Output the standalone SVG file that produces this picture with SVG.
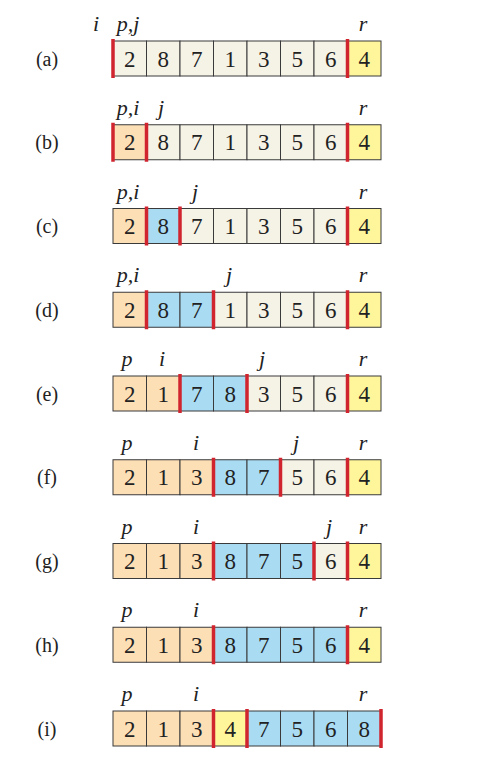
<svg xmlns="http://www.w3.org/2000/svg" width="477" height="771" viewBox="0 0 477 771">
<style>
.c{stroke:#3a3a3a;stroke-width:1}
.w{fill:#F5F2E6}
.o{fill:#FDDFB6}
.b{fill:#A9DCF3}
.y{fill:#FFF69C}
text{font-family:'Liberation Serif','Times New Roman',Times,serif;fill:#222;text-anchor:middle}
.d{font-size:23px}
.l{font-size:20px}
.v{font-style:italic;font-size:22px}
.red{stroke:#D0242F;stroke-width:3.5}
</style>
<rect width="477" height="771" fill="#fff"/>

<g id="row-a" transform="translate(0,41)">
<text class="l" x="47" y="24.5">(a)</text>
<text class="v" x="96" y="-10">i</text>
<text class="v" x="128" y="-10">p,j</text>
<text class="v" x="363" y="-10">r</text>
<g id="a0"><rect class="c w" x="113" y="0" width="33.5" height="35"/><text class="d" x="129.75" y="25.5">2</text></g>
<g id="a1"><rect class="c w" x="146.5" y="0" width="33.5" height="35"/><text class="d" x="163.25" y="25.5">8</text></g>
<g id="a2"><rect class="c w" x="180" y="0" width="33.5" height="35"/><text class="d" x="196.75" y="25.5">7</text></g>
<g id="a3"><rect class="c w" x="213.5" y="0" width="33.5" height="35"/><text class="d" x="230.25" y="25.5">1</text></g>
<g id="a4"><rect class="c w" x="247" y="0" width="33.5" height="35"/><text class="d" x="263.75" y="25.5">3</text></g>
<g id="a5"><rect class="c w" x="280.5" y="0" width="33.5" height="35"/><text class="d" x="297.25" y="25.5">5</text></g>
<g id="a6"><rect class="c w" x="314" y="0" width="33.5" height="35"/><text class="d" x="330.75" y="25.5">6</text></g>
<g id="a7"><rect class="c y" x="347.5" y="0" width="33.5" height="35"/><text class="d" x="364.25" y="25.5">4</text></g>
<line class="red" x1="113" y1="-2" x2="113" y2="37"/>
<line class="red" x1="347.5" y1="-2" x2="347.5" y2="37"/>
</g>

<g id="row-b" transform="translate(0,124.75)">
<text class="l" x="47" y="24.5">(b)</text>
<text class="v" x="128" y="-10">p,i</text>
<text class="v" x="161" y="-10">j</text>
<text class="v" x="363" y="-10">r</text>
<g id="b0"><rect class="c o" x="113" y="0" width="33.5" height="35"/><text class="d" x="129.75" y="25.5">2</text></g>
<g id="b1"><rect class="c w" x="146.5" y="0" width="33.5" height="35"/><text class="d" x="163.25" y="25.5">8</text></g>
<g id="b2"><rect class="c w" x="180" y="0" width="33.5" height="35"/><text class="d" x="196.75" y="25.5">7</text></g>
<g id="b3"><rect class="c w" x="213.5" y="0" width="33.5" height="35"/><text class="d" x="230.25" y="25.5">1</text></g>
<g id="b4"><rect class="c w" x="247" y="0" width="33.5" height="35"/><text class="d" x="263.75" y="25.5">3</text></g>
<g id="b5"><rect class="c w" x="280.5" y="0" width="33.5" height="35"/><text class="d" x="297.25" y="25.5">5</text></g>
<g id="b6"><rect class="c w" x="314" y="0" width="33.5" height="35"/><text class="d" x="330.75" y="25.5">6</text></g>
<g id="b7"><rect class="c y" x="347.5" y="0" width="33.5" height="35"/><text class="d" x="364.25" y="25.5">4</text></g>
<line class="red" x1="113" y1="-2" x2="113" y2="37"/>
<line class="red" x1="146.5" y1="-2" x2="146.5" y2="37"/>
<line class="red" x1="347.5" y1="-2" x2="347.5" y2="37"/>
</g>

<g id="row-c" transform="translate(0,208.5)">
<text class="l" x="47" y="24.5">(c)</text>
<text class="v" x="128" y="-10">p,i</text>
<text class="v" x="195" y="-10">j</text>
<text class="v" x="363" y="-10">r</text>
<g id="c0"><rect class="c o" x="113" y="0" width="33.5" height="35"/><text class="d" x="129.75" y="25.5">2</text></g>
<g id="c1"><rect class="c b" x="146.5" y="0" width="33.5" height="35"/><text class="d" x="163.25" y="25.5">8</text></g>
<g id="c2"><rect class="c w" x="180" y="0" width="33.5" height="35"/><text class="d" x="196.75" y="25.5">7</text></g>
<g id="c3"><rect class="c w" x="213.5" y="0" width="33.5" height="35"/><text class="d" x="230.25" y="25.5">1</text></g>
<g id="c4"><rect class="c w" x="247" y="0" width="33.5" height="35"/><text class="d" x="263.75" y="25.5">3</text></g>
<g id="c5"><rect class="c w" x="280.5" y="0" width="33.5" height="35"/><text class="d" x="297.25" y="25.5">5</text></g>
<g id="c6"><rect class="c w" x="314" y="0" width="33.5" height="35"/><text class="d" x="330.75" y="25.5">6</text></g>
<g id="c7"><rect class="c y" x="347.5" y="0" width="33.5" height="35"/><text class="d" x="364.25" y="25.5">4</text></g>
<line class="red" x1="146.5" y1="-2" x2="146.5" y2="37"/>
<line class="red" x1="180" y1="-2" x2="180" y2="37"/>
<line class="red" x1="347.5" y1="-2" x2="347.5" y2="37"/>
</g>

<g id="row-d" transform="translate(0,292.25)">
<text class="l" x="47" y="24.5">(d)</text>
<text class="v" x="128" y="-10">p,i</text>
<text class="v" x="229" y="-10">j</text>
<text class="v" x="363" y="-10">r</text>
<g id="d0"><rect class="c o" x="113" y="0" width="33.5" height="35"/><text class="d" x="129.75" y="25.5">2</text></g>
<g id="d1"><rect class="c b" x="146.5" y="0" width="33.5" height="35"/><text class="d" x="163.25" y="25.5">8</text></g>
<g id="d2"><rect class="c b" x="180" y="0" width="33.5" height="35"/><text class="d" x="196.75" y="25.5">7</text></g>
<g id="d3"><rect class="c w" x="213.5" y="0" width="33.5" height="35"/><text class="d" x="230.25" y="25.5">1</text></g>
<g id="d4"><rect class="c w" x="247" y="0" width="33.5" height="35"/><text class="d" x="263.75" y="25.5">3</text></g>
<g id="d5"><rect class="c w" x="280.5" y="0" width="33.5" height="35"/><text class="d" x="297.25" y="25.5">5</text></g>
<g id="d6"><rect class="c w" x="314" y="0" width="33.5" height="35"/><text class="d" x="330.75" y="25.5">6</text></g>
<g id="d7"><rect class="c y" x="347.5" y="0" width="33.5" height="35"/><text class="d" x="364.25" y="25.5">4</text></g>
<line class="red" x1="146.5" y1="-2" x2="146.5" y2="37"/>
<line class="red" x1="213.5" y1="-2" x2="213.5" y2="37"/>
<line class="red" x1="347.5" y1="-2" x2="347.5" y2="37"/>
</g>

<g id="row-e" transform="translate(0,376)">
<text class="l" x="47" y="24.5">(e)</text>
<text class="v" x="127" y="-10">p</text>
<text class="v" x="162" y="-10">i</text>
<text class="v" x="262" y="-10">j</text>
<text class="v" x="363" y="-10">r</text>
<g id="e0"><rect class="c o" x="113" y="0" width="33.5" height="35"/><text class="d" x="129.75" y="25.5">2</text></g>
<g id="e1"><rect class="c o" x="146.5" y="0" width="33.5" height="35"/><text class="d" x="163.25" y="25.5">1</text></g>
<g id="e2"><rect class="c b" x="180" y="0" width="33.5" height="35"/><text class="d" x="196.75" y="25.5">7</text></g>
<g id="e3"><rect class="c b" x="213.5" y="0" width="33.5" height="35"/><text class="d" x="230.25" y="25.5">8</text></g>
<g id="e4"><rect class="c w" x="247" y="0" width="33.5" height="35"/><text class="d" x="263.75" y="25.5">3</text></g>
<g id="e5"><rect class="c w" x="280.5" y="0" width="33.5" height="35"/><text class="d" x="297.25" y="25.5">5</text></g>
<g id="e6"><rect class="c w" x="314" y="0" width="33.5" height="35"/><text class="d" x="330.75" y="25.5">6</text></g>
<g id="e7"><rect class="c y" x="347.5" y="0" width="33.5" height="35"/><text class="d" x="364.25" y="25.5">4</text></g>
<line class="red" x1="180" y1="-2" x2="180" y2="37"/>
<line class="red" x1="247" y1="-2" x2="247" y2="37"/>
<line class="red" x1="347.5" y1="-2" x2="347.5" y2="37"/>
</g>

<g id="row-f" transform="translate(0,459.75)">
<text class="l" x="47" y="24.5">(f)</text>
<text class="v" x="127" y="-10">p</text>
<text class="v" x="196" y="-10">i</text>
<text class="v" x="296" y="-10">j</text>
<text class="v" x="363" y="-10">r</text>
<g id="f0"><rect class="c o" x="113" y="0" width="33.5" height="35"/><text class="d" x="129.75" y="25.5">2</text></g>
<g id="f1"><rect class="c o" x="146.5" y="0" width="33.5" height="35"/><text class="d" x="163.25" y="25.5">1</text></g>
<g id="f2"><rect class="c o" x="180" y="0" width="33.5" height="35"/><text class="d" x="196.75" y="25.5">3</text></g>
<g id="f3"><rect class="c b" x="213.5" y="0" width="33.5" height="35"/><text class="d" x="230.25" y="25.5">8</text></g>
<g id="f4"><rect class="c b" x="247" y="0" width="33.5" height="35"/><text class="d" x="263.75" y="25.5">7</text></g>
<g id="f5"><rect class="c w" x="280.5" y="0" width="33.5" height="35"/><text class="d" x="297.25" y="25.5">5</text></g>
<g id="f6"><rect class="c w" x="314" y="0" width="33.5" height="35"/><text class="d" x="330.75" y="25.5">6</text></g>
<g id="f7"><rect class="c y" x="347.5" y="0" width="33.5" height="35"/><text class="d" x="364.25" y="25.5">4</text></g>
<line class="red" x1="213.5" y1="-2" x2="213.5" y2="37"/>
<line class="red" x1="280.5" y1="-2" x2="280.5" y2="37"/>
<line class="red" x1="347.5" y1="-2" x2="347.5" y2="37"/>
</g>

<g id="row-g" transform="translate(0,543.5)">
<text class="l" x="47" y="24.5">(g)</text>
<text class="v" x="127" y="-10">p</text>
<text class="v" x="196" y="-10">i</text>
<text class="v" x="329" y="-10">j</text>
<text class="v" x="363" y="-10">r</text>
<g id="g0"><rect class="c o" x="113" y="0" width="33.5" height="35"/><text class="d" x="129.75" y="25.5">2</text></g>
<g id="g1"><rect class="c o" x="146.5" y="0" width="33.5" height="35"/><text class="d" x="163.25" y="25.5">1</text></g>
<g id="g2"><rect class="c o" x="180" y="0" width="33.5" height="35"/><text class="d" x="196.75" y="25.5">3</text></g>
<g id="g3"><rect class="c b" x="213.5" y="0" width="33.5" height="35"/><text class="d" x="230.25" y="25.5">8</text></g>
<g id="g4"><rect class="c b" x="247" y="0" width="33.5" height="35"/><text class="d" x="263.75" y="25.5">7</text></g>
<g id="g5"><rect class="c b" x="280.5" y="0" width="33.5" height="35"/><text class="d" x="297.25" y="25.5">5</text></g>
<g id="g6"><rect class="c w" x="314" y="0" width="33.5" height="35"/><text class="d" x="330.75" y="25.5">6</text></g>
<g id="g7"><rect class="c y" x="347.5" y="0" width="33.5" height="35"/><text class="d" x="364.25" y="25.5">4</text></g>
<line class="red" x1="213.5" y1="-2" x2="213.5" y2="37"/>
<line class="red" x1="314" y1="-2" x2="314" y2="37"/>
<line class="red" x1="347.5" y1="-2" x2="347.5" y2="37"/>
</g>

<g id="row-h" transform="translate(0,627.25)">
<text class="l" x="47" y="24.5">(h)</text>
<text class="v" x="127" y="-10">p</text>
<text class="v" x="196" y="-10">i</text>
<text class="v" x="363" y="-10">r</text>
<g id="h0"><rect class="c o" x="113" y="0" width="33.5" height="35"/><text class="d" x="129.75" y="25.5">2</text></g>
<g id="h1"><rect class="c o" x="146.5" y="0" width="33.5" height="35"/><text class="d" x="163.25" y="25.5">1</text></g>
<g id="h2"><rect class="c o" x="180" y="0" width="33.5" height="35"/><text class="d" x="196.75" y="25.5">3</text></g>
<g id="h3"><rect class="c b" x="213.5" y="0" width="33.5" height="35"/><text class="d" x="230.25" y="25.5">8</text></g>
<g id="h4"><rect class="c b" x="247" y="0" width="33.5" height="35"/><text class="d" x="263.75" y="25.5">7</text></g>
<g id="h5"><rect class="c b" x="280.5" y="0" width="33.5" height="35"/><text class="d" x="297.25" y="25.5">5</text></g>
<g id="h6"><rect class="c b" x="314" y="0" width="33.5" height="35"/><text class="d" x="330.75" y="25.5">6</text></g>
<g id="h7"><rect class="c y" x="347.5" y="0" width="33.5" height="35"/><text class="d" x="364.25" y="25.5">4</text></g>
<line class="red" x1="213.5" y1="-2" x2="213.5" y2="37"/>
<line class="red" x1="347.5" y1="-2" x2="347.5" y2="37"/>
</g>

<g id="row-i" transform="translate(0,711)">
<text class="l" x="47" y="24.5">(i)</text>
<text class="v" x="127" y="-10">p</text>
<text class="v" x="196" y="-10">i</text>
<text class="v" x="363" y="-10">r</text>
<g id="i0"><rect class="c o" x="113" y="0" width="33.5" height="35"/><text class="d" x="129.75" y="25.5">2</text></g>
<g id="i1"><rect class="c o" x="146.5" y="0" width="33.5" height="35"/><text class="d" x="163.25" y="25.5">1</text></g>
<g id="i2"><rect class="c o" x="180" y="0" width="33.5" height="35"/><text class="d" x="196.75" y="25.5">3</text></g>
<g id="i3"><rect class="c y" x="213.5" y="0" width="33.5" height="35"/><text class="d" x="230.25" y="25.5">4</text></g>
<g id="i4"><rect class="c b" x="247" y="0" width="33.5" height="35"/><text class="d" x="263.75" y="25.5">7</text></g>
<g id="i5"><rect class="c b" x="280.5" y="0" width="33.5" height="35"/><text class="d" x="297.25" y="25.5">5</text></g>
<g id="i6"><rect class="c b" x="314" y="0" width="33.5" height="35"/><text class="d" x="330.75" y="25.5">6</text></g>
<g id="i7"><rect class="c b" x="347.5" y="0" width="33.5" height="35"/><text class="d" x="364.25" y="25.5">8</text></g>
<line class="red" x1="213.5" y1="-2" x2="213.5" y2="37"/>
<line class="red" x1="247" y1="-2" x2="247" y2="37"/>
<line class="red" x1="381" y1="-2" x2="381" y2="37"/>
</g>
</svg>
